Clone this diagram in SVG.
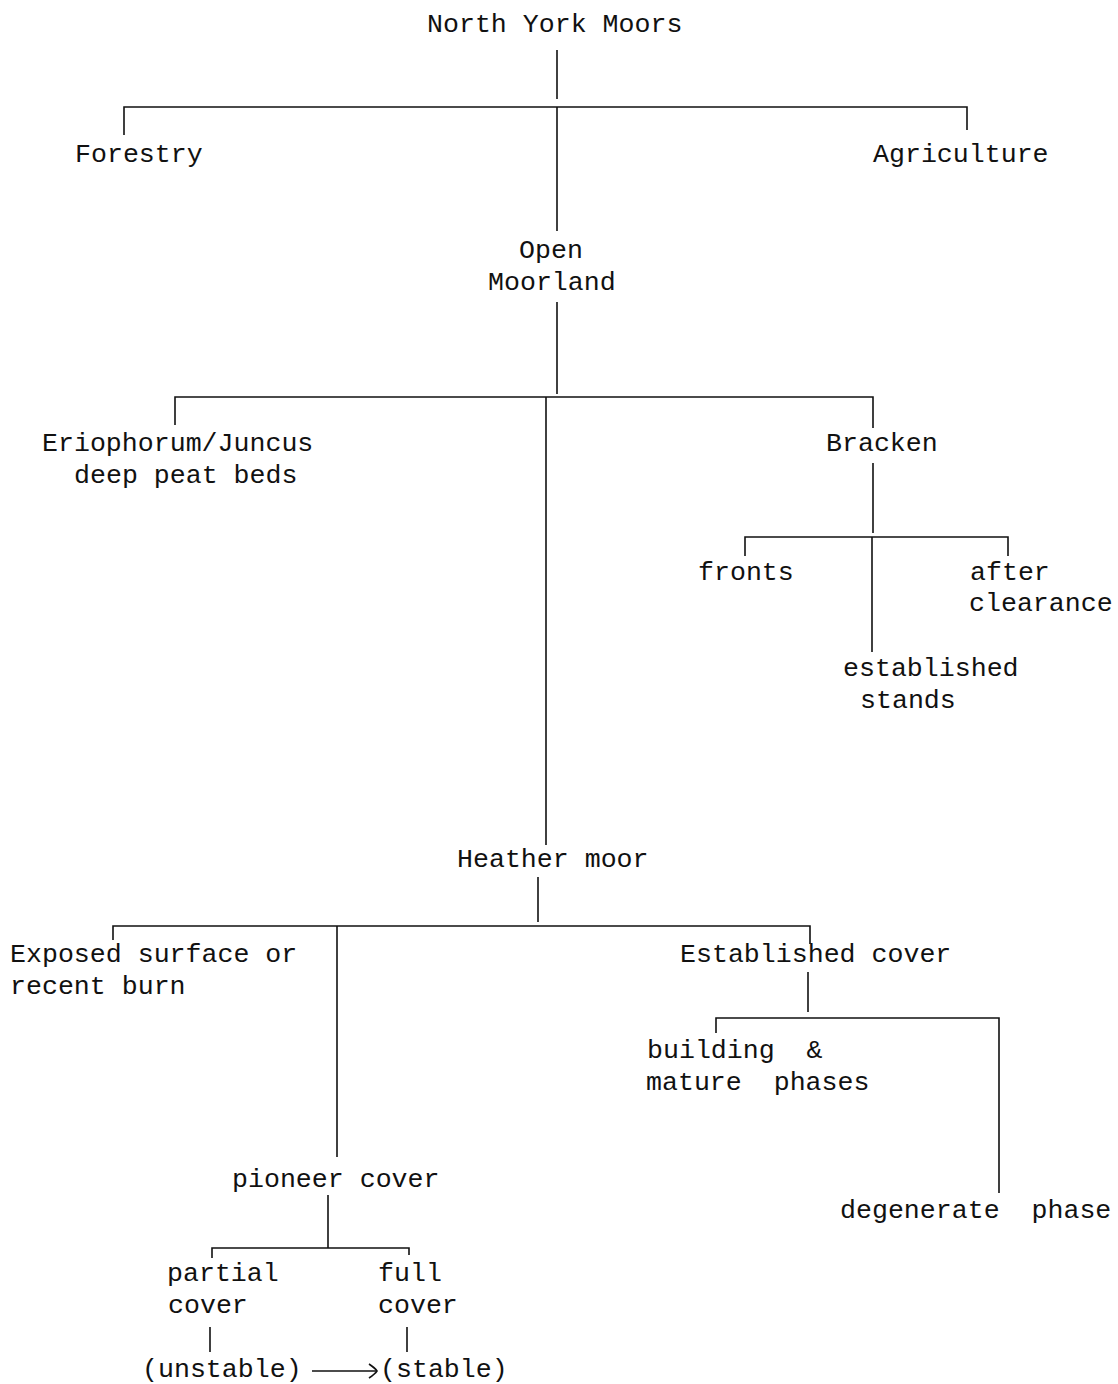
<svg xmlns="http://www.w3.org/2000/svg" width="1118" height="1384" viewBox="0 0 1118 1384">
<style>
text { font-family: "Liberation Mono", "Courier New", monospace; font-size: 26.6px; fill: #111; white-space: pre; }
.c { fill: none; stroke: #111; stroke-width: 1.6; }
</style>
<rect width="1118" height="1384" fill="#fff"/>
<g id="connectors">
  <path class="c" d="M557,50 V99"/>
  <path class="c" d="M124,135 V107 H967 V130"/>
  <path class="c" d="M557,107 V231"/>
  <path class="c" d="M557,302 V394"/>
  <path class="c" d="M175,425 V397 H873 V428"/>
  <path class="c" d="M546,397 V845"/>
  <path class="c" d="M873,463 V533"/>
  <path class="c" d="M745,556 V537 H1008 V556"/>
  <path class="c" d="M872,537 V652"/>
  <path class="c" d="M538,877 V922"/>
  <path class="c" d="M113,940 V926 H810 V944"/>
  <path class="c" d="M337,926 V1157"/>
  <path class="c" d="M808,972 V1012"/>
  <path class="c" d="M716,1033 V1018 H999 V1193"/>
  <path class="c" d="M328,1195 V1248"/>
  <path class="c" d="M212,1258 V1248 H409 V1255"/>
  <path class="c" d="M210,1327 V1352"/>
  <path class="c" d="M407,1327 V1352"/>
  <path class="c" d="M312,1371 H376"/>
  <path class="c" d="M369,1364 Q375,1368 377,1371 Q375,1374 369,1378"/>
</g>
<g id="north-york-moors"><text x="427" y="32">North York Moors</text></g>
<g id="forestry"><text x="75" y="162">Forestry</text></g>
<g id="agriculture"><text x="873" y="162">Agriculture</text></g>
<g id="open-moorland"><text x="519" y="258">Open</text><text x="488" y="290">Moorland</text></g>
<g id="eriophorum"><text x="42" y="451">Eriophorum/Juncus</text><text x="74" y="483">deep peat beds</text></g>
<g id="bracken"><text x="826" y="451">Bracken</text></g>
<g id="fronts"><text x="698" y="580">fronts</text></g>
<g id="after-clearance"><text x="970" y="580">after</text><text x="969" y="611">clearance</text></g>
<g id="established-stands"><text x="843" y="676">established</text><text x="860" y="708">stands</text></g>
<g id="heather-moor"><text x="457" y="867">Heather moor</text></g>
<g id="exposed-surface"><text x="10" y="962">Exposed surface or</text><text x="10" y="994">recent burn</text></g>
<g id="established-cover"><text x="680" y="962">Established cover</text></g>
<g id="building-mature"><text x="647" y="1058">building  &amp;</text><text x="646" y="1090">mature  phases</text></g>
<g id="degenerate-phase"><text x="840" y="1218">degenerate  phase</text></g>
<g id="pioneer-cover"><text x="232" y="1187">pioneer cover</text></g>
<g id="partial-cover"><text x="167" y="1281">partial</text><text x="168" y="1313">cover</text></g>
<g id="full-cover"><text x="378" y="1281">full</text><text x="378" y="1313">cover</text></g>
<g id="unstable"><text x="142" y="1377">(unstable)</text></g>
<g id="stable"><text x="380" y="1377">(stable)</text></g>
</svg>
